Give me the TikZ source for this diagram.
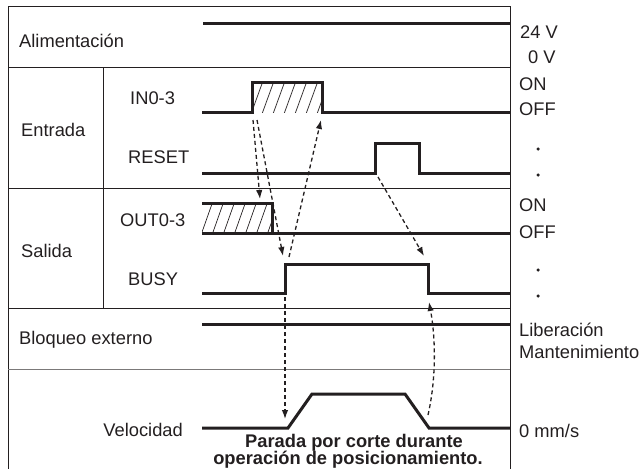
\documentclass[tikz,border=0pt]{standalone}
\usepackage{fontspec}
\setmainfont{Liberation Sans}
\usetikzlibrary{arrows.meta}
\definecolor{ink}{HTML}{231F20}
\tikzset{
  frame/.style={draw=ink, line width=1pt},
  sepgray/.style={draw=ink!60, line width=1pt},
  signal/.style={draw=ink, line width=3pt, line join=miter},
  hatch/.style={draw=ink, line width=0.7pt},
  cause/.style={draw=ink, line width=1.3pt, dash pattern=on 4pt off 3pt, -{Latex[length=9pt,width=6.5pt]}},
  lbl/.style={text=ink, font=\fontsize{18.3}{20}\selectfont, inner sep=0pt},
  lleft/.style={lbl, anchor=west},
  lright/.style={lbl, anchor=east},
  note/.style={text=ink, font=\fontsize{18.3}{17}\selectfont\bfseries, inner sep=0pt},
  dotmark/.style={circle, fill=ink, inner sep=0pt, minimum size=3.5pt}
}
\begin{document}
\begin{tikzpicture}[x=1pt, y=-1pt]
\useasboundingbox (0,0) rectangle (644,468);
% frame
\draw[frame] (8,470) -- (8,7) -- (510,7) -- (510,470);
\draw[frame] (8,68) -- (510,68);
\draw[frame] (8,188) -- (510,188);
\draw[frame] (8,308) -- (510,308);
\draw[sepgray] (8,369) -- (510,369);
\draw[frame] (103,68) -- (103,308);

% row labels
\node[lleft] (alim) at (19,41) {Alimentación};
\node[lleft] (entrada) at (21,130) {Entrada};
\node[lleft] (in) at (130,98) {IN0-3};
\node[lleft] (reset) at (128,157) {RESET};
\node[lleft] (salida) at (21,251) {Salida};
\node[lleft] (out) at (120,220) {OUT0-3};
\node[lleft] (busy) at (128,279) {BUSY};
\node[lleft] (bloq) at (19,340) {Bloqueo externo};
\node[lright] (vel) at (183,430) {Velocidad};

% right labels
\node[lleft] (v24) at (520,32) {24 V};
\node[lleft] (v0) at (528,57) {0 V};
\node[lleft] (on1) at (519,84) {ON};
\node[lleft] (off1) at (519,109) {OFF};
\node[dotmark] (d1) at (538,149) {};
\node[dotmark] (d2) at (538,175) {};
\node[lleft] (on2) at (519,205) {ON};
\node[lleft] (off2) at (519,232) {OFF};
\node[dotmark] (d3) at (538,270) {};
\node[dotmark] (d4) at (538,296) {};
\node[lleft] (lib) at (519,330) {Liberación};
\node[lleft] (mant) at (519,352) {Mantenimiento};
\node[lleft] (mms) at (519,431) {0 mm/s};

% hatching
\begin{scope}
\clip (252,83) rectangle (322,112);
\foreach \i in {0,...,8} {\draw[hatch] (240+\i*11,114) -- (252+\i*11,81);}
\end{scope}
\begin{scope}
\clip (202,203) rectangle (272,233);
\foreach \i in {0,...,8} {\draw[hatch] (190+\i*11,235) -- (202+\i*11,201);}
\end{scope}

% signals
\draw[signal] (203,24) -- (510,24);
\draw[signal] (202,112) -- (252,112) -- (252,83) -- (322,83) -- (322,112) -- (510,112);
\draw[signal] (202,173) -- (375,173) -- (375,143) -- (419,143) -- (419,173) -- (510,173);
\draw[signal] (202,203) -- (272,203) -- (272,233);
\draw[signal] (202,233) -- (510,233);
\draw[signal] (202,293) -- (285,293) -- (285,264) -- (428,264) -- (428,293) -- (510,293);
\draw[signal] (202,324) -- (510,324);
\draw[signal] (202,428) -- (288,428) -- (312,394) -- (405,394) -- (429,428) -- (510,428);

% cause arrows
\coordinate (a1s) at (253,120);
\coordinate (a1e) at (260,199);
\coordinate (a2s) at (257,120);
\coordinate (a2e) at (283,256);
\coordinate (a3s) at (289,257);
\coordinate (a3e) at (321,120);
\coordinate (a4s) at (378,177);
\coordinate (a4e) at (424,256);
\coordinate (a5s) at (428,415);
\coordinate (a5e) at (429,302);
\coordinate (a6s) at (285,297);
\coordinate (a6e) at (285,419);
\draw[cause] (a1s) -- (a1e);
\draw[cause] (a2s) -- (a2e);
\draw[cause] (a3s) -- (a3e);
\draw[cause] (a4s) -- (a4e);
\draw[cause] (a5s) .. controls (436,380) and (436,340) .. (a5e);
\draw[cause] (a6s) -- (a6e);

% note
\node[note] (n1) at (354,443) {Parada por corte durante};
\node[note] (n2) at (348,460) {operación de posicionamiento.};
\end{tikzpicture}
\end{document}
